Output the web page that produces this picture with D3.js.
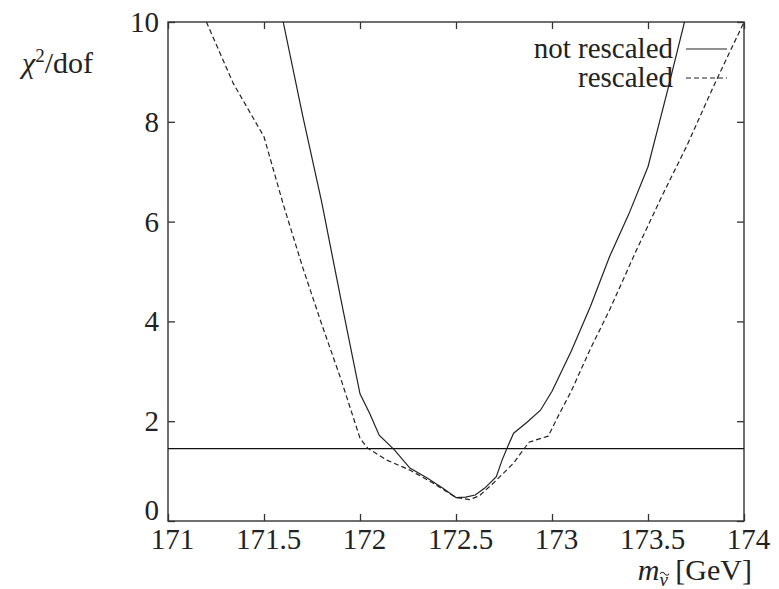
<!DOCTYPE html>
<html>
<head>
<meta charset="utf-8">
<script src="https://cdn.jsdelivr.net/npm/d3@7"></script>
<style>
  body { margin: 0; background: #fff; }
  svg text { font-family: "Liberation Serif", "Times New Roman", Tinos, "DejaVu Serif", "Noto Serif", FreeSerif, serif !important; fill: #222; }
</style>
</head>
<body>
<div id="chart"></div>
<script>
// values
var notRescaledMass = [171.6, 171.7, 171.8, 171.9, 172.0, 172.05, 172.1, 172.18, 172.26, 172.35,
    172.43, 172.5, 172.55, 172.6, 172.65, 172.71, 172.74, 172.77, 172.8, 172.87,
    172.94, 173.0, 173.1, 173.2, 173.3, 173.4, 173.5, 173.6, 173.69];
var notRescaledChi = [10, 8.15, 6.4, 4.45, 2.55, 2.16, 1.72, 1.42, 1.06, 0.86,
    0.66, 0.47, 0.48, 0.52, 0.66, 0.89, 1.22, 1.5, 1.76, 1.98,
    2.22, 2.6, 3.4, 4.3, 5.3, 6.15, 7.1, 8.6, 10];

var rescaledMass = [171.2, 171.34, 171.5, 171.6, 171.7, 171.8, 171.9, 172.0, 172.04, 172.14,
    172.26, 172.38, 172.5, 172.57, 172.62, 172.7, 172.8, 172.88, 172.98, 173.04,
    173.1, 173.2, 173.3, 173.44, 173.58, 173.7, 173.84, 174.0];
var rescaledChi = [10, 8.77, 7.7, 6.35, 5.1, 3.95, 2.85, 1.66, 1.46, 1.22,
    1.02, 0.76, 0.47, 0.43, 0.5, 0.78, 1.16, 1.58, 1.7, 2.16,
    2.6, 3.45, 4.23, 5.43, 6.57, 7.5, 8.7, 10];

var thresholdChi = 1.45;

var xTicks = [171, 171.5, 172, 172.5, 173, 173.5, 174];
var yTicks = [0, 2, 4, 6, 8, 10];

var series = [
    {name: "not rescaled", mass: notRescaledMass, chi: notRescaledChi, dash: null},
    {name: "rescaled", mass: rescaledMass, chi: rescaledChi, dash: "5,3"}
];

var serif = "'Liberation Serif', 'Times New Roman', Tinos, 'DejaVu Serif', serif";

var W = 779, H = 589;
var margin = {top: 22, right: 35, bottom: 68, left: 168},
    width = W - margin.left - margin.right,
    height = H - margin.top - margin.bottom;

var svg = d3.select("#chart").append("svg")
    .attr("width", W)
    .attr("height", H)
    .attr("font-family", serif);

var g = svg.append("g")
    .attr("transform", "translate(" + margin.left + "," + margin.top + ")");

var x = d3.scaleLinear().domain([171, 174]).range([0, width]);
var y = d3.scaleLinear().domain([0, 10]).range([height, 0]);

g.append("clipPath").attr("id", "clip")
    .append("rect").attr("width", width).attr("height", height);

var tickLen = 7;

// bottom / top axes, ticks pointing inward
var xBottom = g.append("g")
    .attr("transform", "translate(0," + height + ")")
    .call(d3.axisBottom(x).tickValues(xTicks).tickSize(-tickLen).tickFormat(d3.format("")).tickPadding(6));
xBottom.selectAll("text").attr("dx", 4).attr("dy", "0.76em").style("font-size", "29px");

var xTop = g.append("g")
    .call(d3.axisTop(x).tickValues(xTicks).tickSize(-tickLen).tickFormat(""));

var yLeft = g.append("g")
    .call(d3.axisLeft(y).tickValues(yTicks).tickSize(-tickLen).tickPadding(9));
yLeft.selectAll("text")
    .style("font-size", "29px")
    .attr("dy", function(d) { return d === 0 ? "-0.05em" : "0.33em"; });

var yRight = g.append("g")
    .attr("transform", "translate(" + width + ",0)")
    .call(d3.axisRight(y).tickValues(yTicks).tickSize(-tickLen).tickFormat(""));

g.selectAll("g").attr("font-family", serif);
g.selectAll(".domain").remove();
g.selectAll(".tick line").attr("stroke", "#333").attr("stroke-width", 1.3);
g.selectAll(".tick text").attr("fill", "#222");

// frame
g.append("rect")
    .attr("width", width).attr("height", height)
    .attr("fill", "none").attr("stroke", "#333").attr("stroke-width", 1.4);

// threshold line
g.append("line")
    .attr("x1", 0).attr("x2", width)
    .attr("y1", y(thresholdChi)).attr("y2", y(thresholdChi))
    .attr("stroke", "#111").attr("stroke-width", 1.4);

var line = d3.line()
    .x(function(d) { return x(d[0]); })
    .y(function(d) { return y(d[1]); });

g.append("g").attr("clip-path", "url(#clip)")
    .selectAll("path")
    .data(series)
    .enter().append("path")
    .attr("d", function(s) { return line(d3.zip(s.mass, s.chi)); })
    .attr("fill", "none")
    .attr("stroke", "#222")
    .attr("stroke-width", 1.2)
    .attr("stroke-dasharray", function(s) { return s.dash; });

// legend
var legend = g.selectAll(".legend")
    .data(series)
    .enter().append("g")
    .attr("class", "legend")
    .attr("transform", function(s, i) { return "translate(0," + (27 + i * 29) + ")"; });

legend.append("text")
    .attr("x", 505)
    .attr("dy", "0.3em")
    .attr("text-anchor", "end")
    .style("font-size", "29px")
    .text(function(s) { return s.name; });

legend.append("line")
    .attr("x1", 518).attr("x2", 559)
    .attr("stroke", "#222").attr("stroke-width", 1.2)
    .attr("stroke-dasharray", function(s) { return s.dash; });

// axis titles
var yTitle = svg.append("text")
    .attr("x", 22).attr("y", 73)
    .style("font-size", "30px");
yTitle.append("tspan").style("font-style", "italic").text("χ");
yTitle.append("tspan").attr("dy", -11).style("font-size", "19px").text("2");
yTitle.append("tspan").attr("dy", 11).text("/dof");

// m with subscript nu, then [GeV]
var xTitle = svg.append("text")
    .attr("x", 752).attr("y", 580)
    .attr("text-anchor", "end")
    .style("font-size", "30px");
xTitle.append("tspan").style("font-style", "italic").text("m");
xTitle.append("tspan").attr("dy", 6).style("font-size", "19px").style("font-style", "italic").text("ν");
xTitle.append("tspan").attr("dy", -6).text(" [GeV]");

// tilde accent over the nu, drawn as a small path
var nuBox = xTitle.node().getExtentOfChar(1);
var tx = nuBox.x + nuBox.width / 2 + 1,
    ty = nuBox.y + nuBox.height * 0.18;
svg.append("path")
    .attr("d", "M" + (tx - 4.5) + "," + (ty + 1) +
               " q2.2,-3 4.5,0 t4.5,0")
    .attr("fill", "none")
    .attr("stroke", "#222")
    .attr("stroke-width", 1.1);
</script>
</body>
</html>
